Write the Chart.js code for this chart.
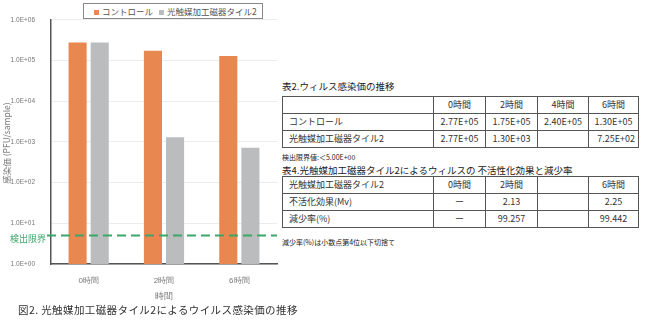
<!DOCTYPE html>
<html>
<head>
<meta charset="utf-8">
<script src="https://cdn.jsdelivr.net/npm/chart.js@4.4.1/dist/chart.umd.min.js"></script>
<style>
  body { margin: 0; width: 649px; height: 323px; overflow: hidden; position: relative; background: #fff;
         font-family: "Noto Sans CJK JP", "Noto Sans", sans-serif; color: #333; }
  #chartBox { position: absolute; left: 0; top: 0; }
  .legend { position: absolute; left: 83px; top: 3px; width: 178px; height: 14px; border: 1px solid #888;
            background: #fff; font-size: 8.5px; line-height: 14px; color: #555; white-space: nowrap; }
  .legend span.sw { display: inline-block; width: 5px; height: 5px; margin: 0 3px 1px 0; vertical-align: middle; }
  .legend .item { position: absolute; top: 0; }
  .ytitle { position: absolute; left: -44px; top: 137px; width: 100px; height: 12px; line-height: 12px;
            text-align: center; transform: rotate(-90deg); transform-origin: 50% 50%;
            font-size: 8.5px; color: #777; white-space: nowrap; }
  .caption { position: absolute; left: 18px; top: 302px; font-size: 10.5px; letter-spacing: 0.4px; color: #333; white-space: nowrap; }
  .ttl { position: absolute; left: 282px; font-size: 9.5px; color: #222; white-space: nowrap; }
  .note { position: absolute; left: 282px; font-size: 7px; color: #222; white-space: nowrap; }
  table { position: absolute; left: 282px; border-collapse: collapse; table-layout: fixed; font-size: 9px; color: #333; }
  td { border: 1px solid #555; height: 16px; padding: 0; text-align: center; white-space: nowrap; line-height: 16px; }
  td.lbl { text-align: left; padding-left: 6px; }
  td.r { text-align: right; padding-right: 3px; }
</style>
</head>
<body>
<canvas id="chartBox" width="280" height="303"></canvas>
<div class="legend" id="legend"></div>
<div class="ytitle" id="ytitle"></div>
<div class="caption">図2.&nbsp;光触媒加工磁器タイル2によるウイルス感染価の推移</div>

<div class="ttl" style="top:79px">表2.ウィルス感染価の推移</div>
<table id="table2" style="top:96px"></table>
<div class="note" style="top:152px">検出限界値:＜5.00E+00</div>

<div class="ttl" style="top:163px">表4.光触媒加工磁器タイル2によるウィルスの 不活性化効果と減少率</div>
<table id="table4" style="top:176px"></table>
<div class="note" style="top:237px">減少率(%)は小数点第4位以下切捨て</div>

<script>
  // chart data
  const categories = ['0時間', '2時間', '6時間'];
  const seriesNames = ['コントロール', '光触媒加工磁器タイル2'];
  const controlValues = [2.77e5, 1.75e5, 1.30e5];
  const tileValues = [2.77e5, 1.30e3, 7.25e2];
  const yTicks = [1, 10, 100, 1000, 10000, 100000, 1000000];
  const yTickLabels = ['1.0E+00', '1.0E+01', '1.0E+02', '1.0E+03', '1.0E+04', '1.0E+05', '1.0E+06'];
  const yTitle = '感染価 (PFU/sample)';
  const xTitle = '時間';
  const detectionLimit = 5;
  const detectionLabel = '検出限界';

  // table data
  const table2Columns = ['', '0時間', '2時間', '4時間', '6時間'];
  const table2Rows = [
    ['コントロール', '2.77E+05', '1.75E+05', '2.40E+05', '1.30E+05'],
    ['光触媒加工磁器タイル2', '2.77E+05', '1.30E+03', '', '7.25E+02'],
  ];
  const table4Columns = ['光触媒加工磁器タイル2', '0時間', '2時間', '', '6時間'];
  const table4Rows = [
    ['不活化効果(Mv)', 'ー', '2.13', '', '2.25'],
    ['減少率(%)', 'ー', '99.257', '', '99.442'],
  ];
  const colWidths = [151, 52, 52, 51, 50];

  const orange = '#E8874F';
  const gray = '#BABCBD';
  const green = '#3DA66B';
  const tickColor = '#777777';

  function buildTable(id, header, rows) {
    const t = document.getElementById(id);
    const cg = document.createElement('colgroup');
    colWidths.forEach(function (w) {
      const c = document.createElement('col');
      c.style.width = w + 'px';
      cg.appendChild(c);
    });
    t.appendChild(cg);
    [header].concat(rows).forEach(function (row) {
      const tr = document.createElement('tr');
      row.forEach(function (txt, i) {
        const td = document.createElement('td');
        td.textContent = txt;
        if (i === 0) td.className = 'lbl';
        tr.appendChild(td);
      });
      t.appendChild(tr);
    });
    t.style.width = colWidths.reduce(function (a, b) { return a + b; }, 0) + 'px';
  }
  buildTable('table2', table2Columns, table2Rows);
  buildTable('table4', table4Columns, table4Rows);
  // last value in table 2 sits to the right of its cell
  document.querySelector('#table2 tr:last-child td:last-child').className = 'r';

  // legend + y title
  const legendEl = document.getElementById('legend');
  [[orange, 10], [gray, 75]].forEach(function (s, i) {
    const d = document.createElement('div');
    d.className = 'item';
    d.style.left = s[1] + 'px';
    d.innerHTML = '<span class="sw" style="background:' + s[0] + '"></span>' + seriesNames[i];
    legendEl.appendChild(d);
  });
  document.getElementById('ytitle').textContent = yTitle;

  const limitLine = {
    id: 'limitLine',
    afterDatasetsDraw: function (chart) {
      const y = chart.scales.y.getPixelForValue(detectionLimit);
      const ctx = chart.ctx;
      ctx.save();
      ctx.strokeStyle = green;
      ctx.lineWidth = 2;
      ctx.setLineDash([9, 5]);
      ctx.beginPath();
      ctx.moveTo(47, y);
      ctx.lineTo(chart.chartArea.right, y);
      ctx.stroke();
      ctx.setLineDash([]);
      ctx.fillStyle = green;
      ctx.font = '9px "Noto Sans CJK JP"';
      ctx.textAlign = 'left';
      ctx.textBaseline = 'middle';
      ctx.fillText(detectionLabel, 10, y + 3);
      ctx.restore();
    },
  };

  new Chart(document.getElementById('chartBox'), {
    type: 'bar',
    data: {
      labels: categories,
      datasets: [
        { label: seriesNames[0], data: controlValues, backgroundColor: orange },
        { label: seriesNames[1], data: tileValues, backgroundColor: gray },
      ],
    },
    options: {
      responsive: false,
      animation: false,
      layout: { padding: { top: 14, right: 3, left: 0, bottom: 0 } },
      datasets: { bar: { categoryPercentage: 0.587, barPercentage: 0.818 } },
      plugins: { legend: { display: false }, tooltip: { enabled: false } },
      scales: {
        x: {
          grid: { display: false },
          border: { color: '#555', width: 1.5 },
          ticks: { color: tickColor, font: { size: 8 }, padding: 4 },
          title: { display: true, text: xTitle, color: tickColor, font: { size: 9 }, padding: { top: 0, bottom: 1 } },
          afterFit: function (scale) { scale.height = 39; },
        },
        y: {
          type: 'logarithmic',
          min: 1,
          max: 1e6,
          grid: { color: '#ececec', drawTicks: false },
          border: { color: '#555', width: 1.5 },
          ticks: {
            color: tickColor,
            font: { size: 6.5, family: '"Liberation Sans", sans-serif' },
            padding: 16,
            callback: function (v) {
              const i = yTicks.indexOf(v);
              return i >= 0 ? yTickLabels[i] : '';
            },
          },
          afterBuildTicks: function (scale) {
            scale.ticks = yTicks.map(function (v) { return { value: v, major: true }; });
          },
          afterFit: function (scale) { scale.width = 51; },
        },
      },
    },
    plugins: [limitLine],
  });
</script>
</body>
</html>
